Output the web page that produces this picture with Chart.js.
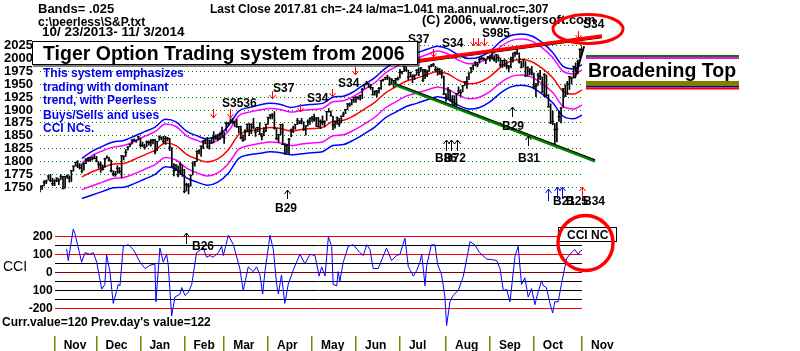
<!DOCTYPE html>
<html>
<head>
<meta charset="utf-8">
<script src="https://cdn.jsdelivr.net/npm/chart.js@4.4.1/dist/chart.umd.min.js"></script>
<style>
body{margin:0;background:#fff;}
#wrap{position:relative;width:800px;height:351px;overflow:hidden;background:#fff;}
#wrap canvas{position:absolute;left:0;}
#price{top:0;}
#cci{top:218px;}
#notes{position:absolute;left:0;top:0;pointer-events:none;white-space:pre;}
</style>
</head>
<body>
<div id="wrap">
<canvas id="price" width="800" height="218"></canvas>
<canvas id="cci" width="800" height="133"></canvas>
<svg id="notes" width="800" height="351" font-family="'Liberation Sans', Arial, sans-serif" font-weight="bold">
 <text x="38" y="13" font-size="13">Bands= .025</text>
 <text x="38" y="26" font-size="12">c:\peerless\S&amp;P.txt</text>
 <text x="42" y="36" font-size="13.5">10/ 23/2013- 11/ 3/2014</text>
 <text x="210" y="13" font-size="12">Last Close 2017.81 ch=-.24 la/ma=1.041 ma.annual.roc=.307</text>
 <text x="422" y="24" font-size="13">(C) 2006, www.tigersoft.com</text>
 <g font-size="12">
  <text x="222" y="107">S3536</text>
  <text x="273" y="92">S37</text>
  <text x="307" y="102">S34</text>
  <text x="338" y="87">S34</text>
  <text x="408" y="43">S37</text>
  <text x="442" y="47">S34</text>
  <text x="482" y="37">S985</text>
  <text x="583" y="28">S34</text>
  <text x="502" y="130">B29</text>
  <text x="518" y="162">B31</text>
  <text x="435" y="162">B86</text>
  <text x="444" y="162">B72</text>
  <text x="275" y="212">B29</text>
  <text x="553" y="205">B21</text>
  <text x="566" y="205">B25</text>
  <text x="583" y="205">B34</text>
  <text x="192" y="250">B26</text>
 </g>
 <rect x="32.5" y="41.5" width="385" height="23" fill="#fff" stroke="#000"/>
 <path d="M419 42V66H33" fill="none" stroke="#000"/>
 <text x="43" y="60" font-size="19.5">Tiger Option Trading system from 2006</text>
 <g fill="#0000ee" font-size="12">
  <text x="43" y="77">This system emphasizes</text>
  <text x="43" y="91">trading with dominant</text>
  <text x="43" y="104">trend, with Peerless</text>
  <text x="43" y="119">Buys/Sells and uses</text>
  <text x="43" y="132">CCI NCs.</text>
 </g>
 <rect x="586" y="54" width="153" height="36" fill="#fff"/>
 <rect x="586" y="55" width="153" height="2" fill="#008000"/>
 <rect x="586" y="57" width="153" height="2" fill="#ff00ff"/>
 <text x="588" y="77" font-size="19.5">Broadening Top</text>
 <rect x="586" y="81" width="153" height="5" fill="#808000"/>
 <rect x="586" y="86" width="153" height="1.5" fill="#0000a0"/>
 <rect x="586" y="87.5" width="153" height="2" fill="#ff0000"/>
 <ellipse cx="588" cy="29" rx="35" ry="14.5" fill="none" stroke="#ff0000" stroke-width="3"/>
 <rect x="558.5" y="227.5" width="58" height="14" fill="#fff" stroke="#000"/>
 <text x="567" y="239" font-size="12">CCI NC</text>
 <circle cx="585.5" cy="243" r="27.5" fill="none" stroke="#ff0000" stroke-width="3.5"/>
 <text x="3" y="271" font-size="14" font-weight="normal">CCI</text>
 <text x="2" y="326" font-size="12">Curr.value=120 Prev.day's value=122</text>
</svg>
</div>
<script>
// S&P 500 daily bars 10/23/2013 - 11/3/2014, index 0 = first trading day
const closes = [1746,1752,1760,1762,1772,1763,1757,1762,1768,1763,1771,1747,1771,1772,1768,1782,1791,1798,1792,1788,
1781,1796,1805,1802,1803,1807,1806,1801,1795,1793,1785,1805,1808,1803,1782,1776,1775,1787,1781,1811,
1810,1818,1828,1833,1842,1841,1841,1848,1832,1831,1827,1838,1837,1838,1842,1819,1839,1848,1846,1839,
1844,1845,1828,1790,1782,1793,1774,1794,1783,1742,1755,1752,1773,1797,1800,1820,1819,1830,1839,1841,
1829,1840,1836,1848,1845,1845,1854,1859,1846,1874,1874,1877,1878,1877,1868,1868,1846,1841,1859,1872,
1861,1872,1867,1857,1866,1853,1849,1858,1872,1886,1891,1889,1865,1845,1852,1872,1833,1816,1831,1843,
1862,1865,1872,1880,1875,1879,1863,1869,1878,1884,1884,1881,1885,1868,1878,1876,1878,1897,1897,1889,
1871,1878,1885,1873,1888,1892,1901,1912,1910,1920,1924,1925,1924,1928,1940,1949,1951,1951,1944,1930,
1936,1938,1942,1957,1959,1963,1963,1950,1960,1957,1961,1960,1973,1975,1985,1978,1964,1973,1965,1968,
1977,1973,1982,1958,1978,1974,1984,1987,1988,1978,1979,1970,1970,1931,1925,1939,1920,1920,1910,1932,
1937,1934,1947,1955,1955,1972,1982,1987,1992,1988,1998,2000,2000,1997,2003,2002,2001,1998,2008,2002,
1988,1996,1997,1986,1984,1999,2002,2011,2010,1994,1983,1998,1966,1983,1978,1972,1946,1946,1968,1965,
1935,1969,1928,1906,1875,1878,1862,1863,1887,1904,1941,1927,1951,1965,1962,1985,1982,1995,2018,2018];
const highs = [1753,1753,1763,1764,1772,1775,1768,1765,1768,1767,1774,1771,1771,1774,1772,1783,1791,1799,1802,1796,
1795,1798,1805,1808,1808,1809,1813,1810,1800,1799,1793,1806,1811,1808,1803,1782,1781,1792,1788,1811,
1811,1823,1829,1834,1842,1844,1842,1849,1846,1838,1834,1840,1840,1843,1843,1843,1839,1850,1848,1849,
1849,1847,1845,1827,1796,1794,1791,1798,1793,1785,1758,1757,1774,1798,1800,1821,1823,1830,1841,1843,
1847,1841,1847,1858,1852,1853,1856,1867,1857,1877,1876,1883,1884,1877,1882,1868,1869,1852,1862,1873,
1874,1873,1884,1865,1866,1875,1855,1866,1873,1886,1891,1893,1897,1864,1853,1872,1873,1835,1834,1845,
1863,1869,1872,1884,1879,1884,1877,1870,1881,1885,1888,1892,1885,1886,1881,1889,1879,1897,1903,1898,
1888,1878,1887,1884,1889,1896,1901,1912,1914,1921,1924,1926,1926,1929,1942,1950,1956,1951,1950,1944,
1937,1938,1944,1958,1960,1964,1968,1964,1961,1958,1961,1964,1979,1975,1985,1984,1977,1974,1969,1968,
1979,1982,1983,1979,1979,1977,1986,1989,1991,1985,1982,1981,1978,1966,1932,1944,1939,1928,1928,1932,
1945,1940,1948,1955,1965,1972,1983,1988,1994,1993,2002,2005,2002,1999,2004,2007,2011,2006,2008,2007,
2001,1996,1998,1996,1987,2003,2011,2013,2019,2011,1994,1999,1994,1984,1981,1985,1972,1952,1972,1977,
1964,1971,1968,1930,1912,1898,1874,1876,1898,1905,1942,1949,1956,1965,1964,1985,1992,1997,2019,2025];
const lows = [1741,1746,1753,1757,1764,1761,1753,1753,1761,1755,1765,1747,1748,1767,1760,1761,1781,1791,1788,1785,
1778,1783,1796,1800,1800,1803,1805,1799,1787,1779,1783,1789,1806,1801,1780,1772,1771,1777,1777,1768,
1803,1810,1822,1829,1834,1839,1837,1842,1828,1829,1824,1829,1832,1830,1834,1815,1821,1841,1842,1835,
1833,1840,1821,1790,1772,1782,1770,1775,1771,1739,1743,1737,1752,1774,1791,1800,1815,1810,1825,1834,
1826,1824,1835,1836,1843,1841,1843,1847,1835,1859,1870,1874,1874,1868,1866,1855,1844,1839,1842,1858,
1850,1854,1864,1849,1858,1852,1842,1850,1858,1872,1883,1883,1863,1842,1837,1852,1833,1814,1816,1815,
1848,1856,1863,1872,1873,1873,1860,1851,1869,1872,1878,1878,1868,1867,1864,1871,1867,1880,1896,1888,
1862,1865,1872,1868,1875,1887,1893,1901,1907,1910,1915,1915,1921,1919,1922,1942,1950,1944,1940,1929,
1929,1925,1933,1940,1956,1959,1959,1948,1950,1944,1953,1958,1962,1970,1975,1975,1959,1964,1953,1959,
1968,1967,1975,1955,1961,1965,1975,1984,1985,1975,1968,1970,1962,1930,1917,1922,1917,1911,1905,1904,
1932,1927,1935,1948,1942,1959,1972,1978,1986,1984,1991,1998,1997,1990,1999,1995,1999,1995,1992,1995,
1984,1983,1985,1980,1974,1982,1993,2004,2008,1991,1982,1984,1966,1966,1969,1968,1942,1926,1948,1959,
1935,1926,1927,1906,1874,1871,1830,1838,1878,1875,1905,1927,1930,1940,1951,1962,1974,1970,2002,2010];

const bandDays = [20,25,30,35,40,45,50,55,60,65,70,75,80,85,90,95,100,105,110,115,120,125,130,135,140,145,150,155,160,165,170,175,180,185,190,195,200,205,210,215,220,225,230,235,240,245,250,255,259];
const bandUpBlue = [1806,1820,1830,1838,1841,1849,1858,1867,1882,1877,1859,1850,1844,1850,1869,1898,1905,1910,1913,1911,1905,1909,1911,1913,1925,1927,1936,1950,1963,1981,1994,2005,2011,2018,2024,2019,2007,2000,2003,2014,2033,2045,2048,2044,2031,2012,1985,1980,1988];
const bandUpPink = [1797,1812,1821,1828,1831,1839,1849,1858,1873,1868,1850,1841,1835,1841,1859,1889,1896,1900,1903,1901,1896,1899,1901,1903,1916,1918,1927,1940,1953,1972,1984,1995,2001,2008,2015,2009,1997,1990,1993,2004,2023,2035,2038,2034,2021,2002,1975,1970,1978];
const bandMid = [1770,1780,1788,1795,1796,1804,1813,1822,1836,1831,1814,1805,1799,1805,1823,1852,1859,1863,1866,1864,1859,1862,1864,1866,1878,1880,1889,1902,1915,1933,1945,1956,1962,1969,1975,1970,1958,1951,1954,1965,1983,1995,1998,1994,1981,1963,1936,1931,1939];
const bandLowPink = [1745,1753,1760,1767,1769,1776,1785,1794,1808,1803,1787,1778,1772,1778,1796,1824,1831,1835,1838,1836,1831,1834,1836,1838,1850,1852,1861,1873,1886,1904,1916,1927,1933,1939,1945,1940,1929,1922,1925,1936,1953,1965,1968,1964,1951,1934,1907,1902,1910];
const bandLowBlue = [1728,1735,1742,1749,1750,1757,1766,1775,1790,1785,1768,1760,1754,1760,1777,1806,1813,1816,1819,1817,1813,1815,1817,1819,1831,1833,1842,1854,1867,1885,1896,1907,1913,1920,1926,1921,1909,1902,1905,1916,1933,1945,1948,1944,1931,1914,1888,1883,1890];

// CCI
const cciDays = [12.7,13.5,15.9,16.7,19.9,21.5,23.9,25.5,27.1,29.5,31,31.8,33.4,35,37.4,38.2,39.8,42.2,44.6,47.8,50.2,52.5,54.9,55.4,57.3,58.9,60.5,61.3,62.9,64.5,66.9,67.7,69.3,70.9,72.5,74.8,78,79.6,81.2,82.8,85.2,86.8,87.6,90,92.4,95.5,97.1,99.5,101.9,103.5,105.1,106.4,107.5,109.9,111.5,113.1,113.9,115.4,117,118.6,121,124.2,126.6,129,131.4,133.4,134.6,136.2,137.8,139.4,140.1,141.8,142.5,143.3,144.9,147.3,149.7,152.9,154.5,156.1,157.7,159.2,161.6,165.6,168,170.4,172,174.4,176,178.4,180,181.6,182.4,184,184.7,187,188.7,190,191.9,193.5,194.3,195.9,197.5,199.9,202.3,205.5,207.8,210,213.4,218.2,219.8,221.4,223,224.6,227,228.5,230.1,231.7,233.3,234.9,236.5,238,239.7,240.5,242,243.7,245,246,247.6,249.3,251.6,253.2,255.6,257.2,258.5,259];
const cciValues = [130,65,240,214,56,109,100,109,56,-93,-67,100,4,-172,-67,-75,144,153,126,56,21,39,47,-163,135,56,100,39,-242,-137,-120,-84,-128,-111,-67,109,135,84,93,84,109,144,93,205,153,21,-102,30,4,30,-14,-120,4,205,126,-67,-120,-14,-172,-67,12,100,47,100,93,-21,30,-21,196,144,-67,-75,4,-49,56,144,153,109,93,153,126,21,21,135,65,93,100,189,32,-21,10,58,100,-74,32,152,152,45,-14,-137,-295,-163,-126,-100,-21,170,152,110,74,66,21,-100,-95,-163,91,144,-67,-30,-137,-90,-179,-110,-47,-74,-84,-172,-225,-163,-163,-58,74,100,126,100,122,120];

const priceTicks = [1750,1775,1800,1825,1850,1875,1900,1925,1950,1975,2000,2025];
const cciLevels = [200,150,100,50,0,-50,-100,-150,-200];
const cciLineColor = {200:'#ff0000',150:'#000000',100:'#ff0000',50:'#000000',0:'#800000','-50':'#000000','-100':'#000000','-150':'#000000','-200':'#ff0000'};
const cciTickText = {200:'200',100:'100',0:'0','-100':'100','-200':'-200'};
const monthStarts = [7,27,48,69,88,109,130,151,172,194,215,236,259];
const monthNames = ['Nov','Dec','Jan','Feb','Mar','Apr','May','Jun','Jul','Aug','Sep','Oct','Nov'];

// trend lines, [day, price]
const redTrend = [[180.6,1996],[268.5,2044]];
const redTrendEdge = [[180.6,1992.5],[268.5,2040.5]];
const greenTrend = [[168.7,1951],[265.2,1801]];
const greenTrendEdge = [[168.7,1953.5],[265.2,1803.5]];
const lastLeg = [[255.6,1962],[260,2024]];

Chart.defaults.font.family = '"Liberation Sans", Arial, sans-serif';
Chart.defaults.color = '#000';
Chart.defaults.animation = false;
Chart.defaults.plugins.legend.display = false;
Chart.defaults.plugins.tooltip.enabled = false;

const pts = arr => arr.map(p => ({x: p[0], y: p[1]}));
const band = vals => bandDays.map((d, k) => ({x: d, y: vals[k]}));
function lineSet(data, color, width, extra) {
  return Object.assign({type: 'line', data: data, borderColor: color, borderWidth: width, pointRadius: 0, fill: false}, extra || {});
}
const smooth = {cubicInterpolationMode: 'monotone'};

new Chart(document.getElementById('price'), {
  type: 'line',
  data: {datasets: [
    lineSet(pts(lastLeg), '#000', 2, {clip: false}),
    lineSet(pts(redTrend), '#ff0000', 3.5, {clip: false}),
    lineSet(pts(redTrendEdge), '#000', 1, {clip: false}),
    lineSet(pts(greenTrendEdge), '#000', 1, {clip: false}),
    lineSet(pts(greenTrend), '#008000', 3, {clip: false}),
    {type: 'line', data: closes.map((c, i) => ({x: i, y: c})), showLine: false, pointStyle: 'line',
     pointRadius: 1.5, borderColor: '#000', pointBorderColor: '#000', pointBorderWidth: 1},
    {type: 'bar', data: closes.map((c, i) => ({x: i, y: [lows[i], highs[i]]})),
     backgroundColor: '#000', barThickness: 1, borderWidth: 0},
    lineSet(band(bandUpBlue), '#0000ff', 1.5, smooth),
    lineSet(band(bandUpPink), '#ff00ff', 1.5, smooth),
    lineSet(band(bandMid), '#ff0000', 1.5, smooth),
    lineSet(band(bandLowPink), '#ff00ff', 1.5, smooth),
    lineSet(band(bandLowBlue), '#0000ff', 1.5, smooth)
  ]},
  options: {
    responsive: false,
    layout: {padding: {left: 0, right: 218, top: 20, bottom: 3}},
    scales: {
      x: {type: 'linear', min: 0, max: 259, offset: false, display: false},
      y: {
        min: 1719, max: 2075,
        afterBuildTicks: s => { s.ticks = priceTicks.map(v => ({value: v})); },
        afterFit: s => { s.width = 40; },
        grid: {color: '#008000', lineWidth: 1, drawTicks: false},
        border: {display: false, dash: [1, 3]},
        ticks: {autoSkip: false, padding: 7, font: {size: 13, weight: 'bold'}, callback: v => String(v)}
      }
    }
  }
});

new Chart(document.getElementById('cci'), {
  type: 'line',
  data: {datasets: [
    lineSet(cciDays.map((d, k) => ({x: d, y: cciValues[k]})), '#0000ff', 1)
  ]},
  options: {
    responsive: false,
    layout: {padding: {left: 0, right: 218, top: 3.5, bottom: 0}},
    scales: {
      x: {
        type: 'linear', min: 7, max: 259, offset: false, position: 'bottom',
        afterBuildTicks: s => { s.ticks = monthStarts.map(v => ({value: v})); },
        afterFit: s => { s.height = 15; },
        grid: {drawOnChartArea: false, color: '#808000', lineWidth: 1.5, tickLength: 15},
        border: {display: false},
        ticks: {autoSkip: false, maxRotation: 0, minRotation: 0, align: 'start', labelOffset: 9, padding: -13,
                font: {size: 12, weight: 'bold'}, callback: (v, k) => monthNames[k]}
      },
      y: {
        min: -352.6, max: 250,
        afterBuildTicks: s => { s.ticks = cciLevels.map(v => ({value: v})); },
        afterFit: s => { s.width = 54.65; },
        grid: {color: c => cciLineColor[c.tick.value], lineWidth: 1, drawTicks: false},
        border: {display: false},
        ticks: {autoSkip: false, padding: 2, font: {size: 12, weight: 'bold'}, callback: v => cciTickText[v] || ''}
      }
    }
  }
});

// signal arrows
const notes = document.getElementById('notes');
function arrow(x, top, bottom, up, color) {
  const p = document.createElementNS('http://www.w3.org/2000/svg', 'path');
  const tip = up ? top : bottom, s = up ? 4 : -4;
  x += 0.5;
  p.setAttribute('d', 'M' + x + ' ' + top + 'V' + bottom + 'M' + (x - 3) + ' ' + (tip + s) + 'L' + x + ' ' + tip + 'L' + (x + 3) + ' ' + (tip + s));
  p.setAttribute('stroke', color);
  p.setAttribute('fill', 'none');
  notes.appendChild(p);
}
[[213,109,118],[230,109,118],[272,91,99],[300,104,112],[332,89,97],[355,67,75],[433,49,57],
 [473,38,46],[478,38,46],[484,38,46],[578,31,39]].forEach(a => arrow(a[0], a[1], a[2], false, '#ff0000'));
[[287,190,199],[512,107,117],[528,136,146],[446,140,151],[451,140,151],[457,140,151],[186,233,244]]
  .forEach(a => arrow(a[0], a[1], a[2], true, '#000'));
[[548,189,201],[557,187,199],[562,187,199]].forEach(a => arrow(a[0], a[1], a[2], true, '#0000ff'));
arrow(582, 187, 198, true, '#ff0000');
</script>
</body>
</html>
